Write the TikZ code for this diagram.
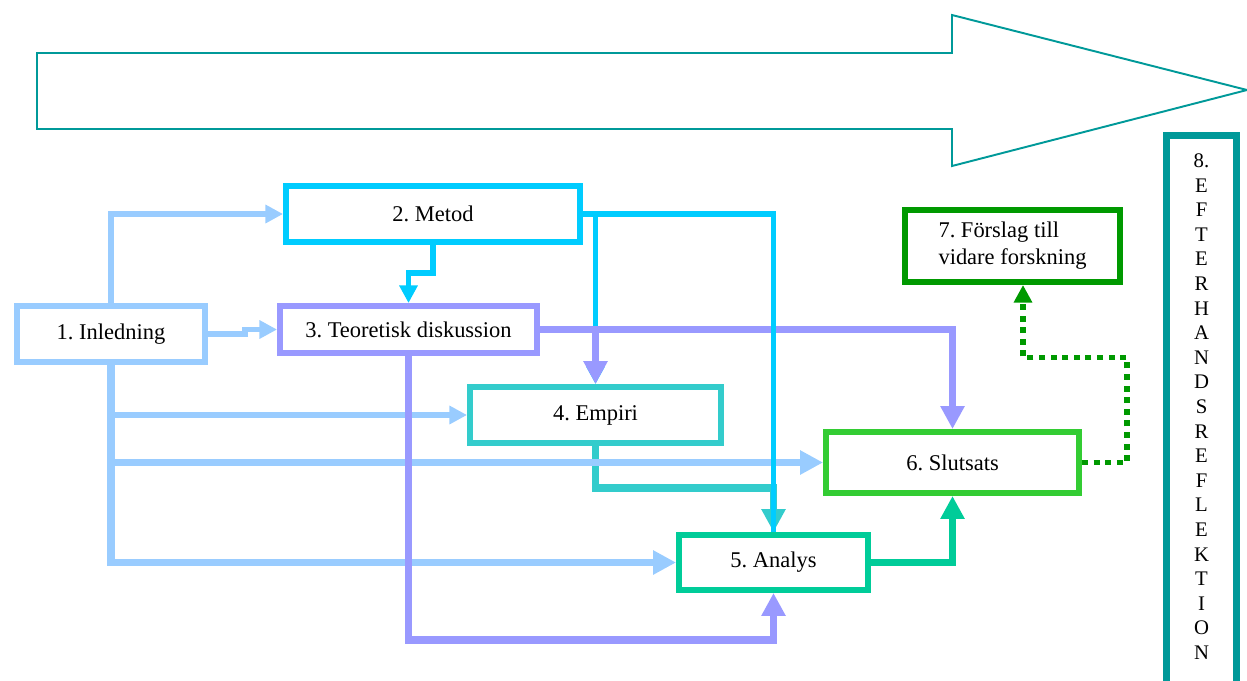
\documentclass[tikz,border=0pt]{standalone}
\usepackage{fontspec}
\setmainfont{Liberation Serif}
\usetikzlibrary{arrows.meta}

\definecolor{ljusbla}{HTML}{99CCFF}
\definecolor{cyanbla}{HTML}{00CCFF}
\definecolor{lila}{HTML}{9999FF}
\definecolor{turkos}{HTML}{33CCCC}
\definecolor{analysgron}{HTML}{00CC99}
\definecolor{slutgron}{HTML}{33CC33}
\definecolor{morkgron}{HTML}{009900}
\definecolor{petrol}{HTML}{009999}

\tikzset{
  ruta/.style={draw, line width=3.4pt, fill=white, inner sep=2pt,
    font=\fontsize{12.8}{15.3}\selectfont},
  tunnpil/.style={line width=3pt, -{Triangle[length=10pt, width=10pt]}},
  tjockpil/.style={line width=4.2pt, -{Triangle[length=13pt, width=13pt]}},
  prickpil/.style={line width=2.9pt, dash pattern=on 3.4pt off 3.2pt,
    -{Triangle[length=10pt, width=10pt]}},
}

\begin{document}
\frenchspacing
\begin{tikzpicture}[x=0.02cm, y=-0.02cm]
    \clip (0,0) rectangle (1247,680);

    % Stor pil
    \draw[petrol, line width=1.1pt] (37,53) -- (952,53) -- (952,15) -- (1247,90)
      -- (952,166) -- (952,129) -- (37,129) -- cycle;

    % Rutor
    \node[ruta, draw=ljusbla, minimum width=3.76cm, minimum height=1.12cm] (inl) at (111,334) {1. Inledning};
    \node[ruta, draw=cyanbla, minimum width=5.88cm, minimum height=1.12cm] (met) at (433,214) {2. Metod};
    \node[ruta, draw=lila, minimum width=5.14cm, minimum height=0.94cm] (teo) at (408.5,329.5) {3. Teoretisk diskussion};
    \node[ruta, draw=turkos, minimum width=5.02cm, minimum height=1.12cm] (emp) at (595.5,415) {4. Empiri};
    \node[ruta, draw=analysgron, minimum width=3.78cm, minimum height=1.10cm] (ana) at (773.5,562.5) {5. Analys};
    \node[ruta, draw=slutgron, minimum width=5.06cm, minimum height=1.22cm] (slu) at (952.5,462.5) {6. Slutsats};
    \node[ruta, draw=morkgron, minimum width=4.3cm, minimum height=1.44cm, align=left] (fors) at (1012.5,246)
      {7. Förslag till\\vidare forskning};
    \node[ruta, draw=petrol, line width=4pt, minimum width=1.4cm, minimum height=11.02cm, align=center,
      text depth=5pt, font=\fontsize{11.8}{14}\selectfont] (eft) at (1201.5,411)
      {8.\\E\\F\\T\\E\\R\\H\\A\\N\\D\\S\\R\\E\\F\\L\\E\\K\\T\\I\\O\\N};

    % Pilar
    \draw[tjockpil, turkos] (emp.south) -- ++(0,42) -| (ana.north);
    \draw[tunnpil, ljusbla] (inl.north) |- (met.west);
    \draw[tunnpil, ljusbla] (inl.east) -- ++(37,0) |- (teo.west);
    \draw[tunnpil, ljusbla] (inl.south) |- (emp.west);
    \draw[tjockpil, ljusbla] (inl.south) |- (ana.west);
    \draw[tjockpil, ljusbla] (inl.south) |- (slu.west);
    \draw[tjockpil, lila] (teo.east) -| (slu.north);
    \draw[tjockpil, lila] (teo.south) -- ++(0,284) -| (ana.south);
    \draw[tunnpil, cyanbla] (met.south) -- ++(0,28) -| (teo.north);
    \draw[tunnpil, cyanbla] (met.east) -| (emp.north);
    \draw[line width=3pt, cyanbla] (met.east) -| (ana.north);
    \draw[tjockpil, lila] (teo.east) -| (emp.north);
    \draw[tjockpil, analysgron] (ana.east) -| (slu.south);
    \draw[prickpil, morkgron] (slu.east) -- ++(45,0) -- ++(0,-105) -| ([xshift=0.21cm]fors.south);
\end{tikzpicture}
\end{document}
